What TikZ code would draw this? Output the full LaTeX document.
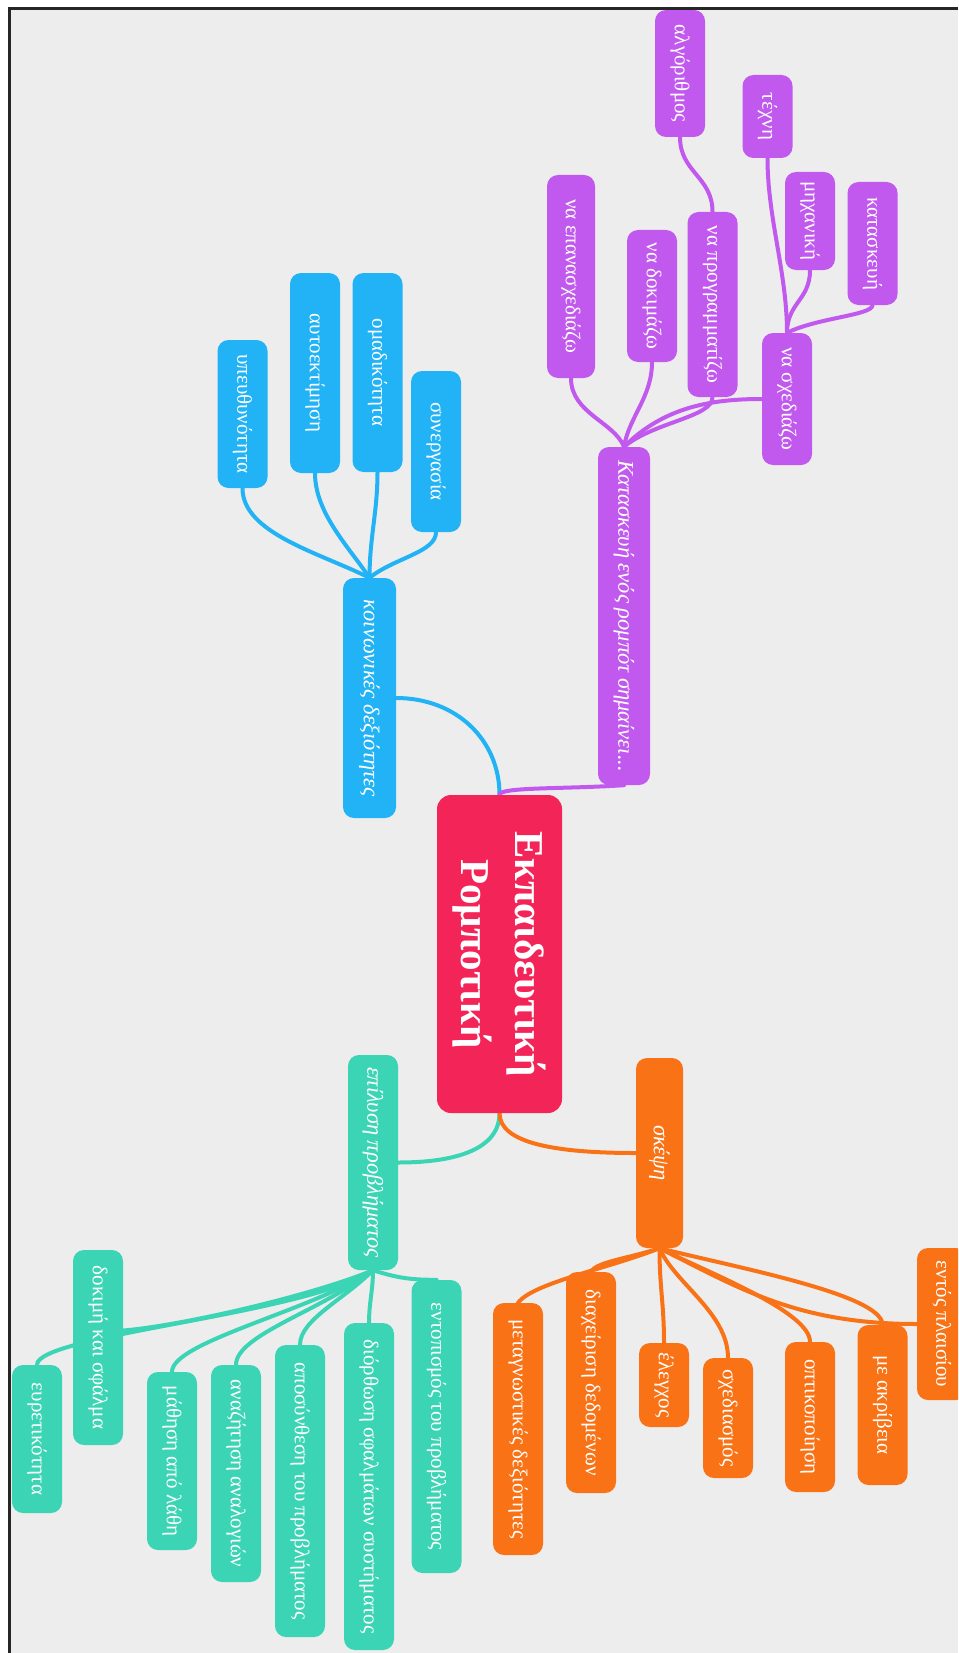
\documentclass[tikz,border=0pt]{standalone}
\usepackage{fontspec}
\setmainfont{Liberation Serif}

\pgfdeclarelayer{background}
\pgfsetlayers{background,main}

\definecolor{rootred}{RGB}{243,37,88}
\definecolor{skyblue}{RGB}{33,179,245}
\definecolor{lilac}{RGB}{193,89,239}
\definecolor{mint}{RGB}{59,213,181}
\definecolor{tangerine}{RGB}{249,115,22}
\definecolor{paper}{RGB}{237,237,237}

\tikzset{
    leaf/.style = {rotate = -90, rounded corners = 11pt, text = white, inner sep = 0pt,
                   minimum height = 50pt, font = \fontsize{21}{24}\selectfont},
    branch/.style = {leaf, font = \fontsize{22.5}{26}\selectfont\itshape},
    link/.style = {line width = 4pt, line cap = round},
}

\begin{document}
\begin{tikzpicture}[x = 1pt, y = -1pt]
        \useasboundingbox (0,0) rectangle (958,1653);

        % centre
        \node[leaf, fill = rootred, minimum width = 318pt, minimum height = 125pt, rounded corners = 14pt,
              align = center, font = \fontsize{41}{54}\selectfont\bfseries] (root) at (499.5,954) {Εκπαιδευτική\\Ρομποτική};

        % social skills
        \node[branch, fill = skyblue, minimum width = 240pt, minimum height = 53pt] (soc) at (369.5,698) {κοινωνικές δεξιότητες};
        \node[leaf, fill = skyblue, minimum width = 148pt] (b1) at (242.5,414) {υπευθυνότητα};
        \node[leaf, fill = skyblue, minimum width = 200pt] (b2) at (315,373) {αυτοεκτίμηση};
        \node[leaf, fill = skyblue, minimum width = 199pt] (b3) at (377.5,372.5) {ομαδικότητα};
        \node[leaf, fill = skyblue, minimum width = 161pt] (b4) at (436,451.5) {συνεργασία};

        % building a robot
        \node[branch, fill = lilac, minimum width = 338pt, minimum height = 52pt] (bot) at (624,616) {Κατασκευή ενός ρομπότ σημαίνει...};
        \node[leaf, fill = lilac, minimum width = 203pt, minimum height = 48pt] (p1) at (571,276.5) {να επανασχεδιάζω};
        \node[leaf, fill = lilac, minimum width = 132pt] (p2) at (652,296) {να δοκιμάζω};
        \node[leaf, fill = lilac, minimum width = 185pt] (p3) at (712.5,304.5) {να προγραμματίζω};
        \node[leaf, fill = lilac, minimum width = 127pt] (p31) at (680,73.5) {αλγόριθμος};
        \node[leaf, fill = lilac, minimum width = 132pt] (p4) at (787,399) {να σχεδιάζω};
        \node[leaf, fill = lilac, minimum width = 83pt] (p41) at (767.5,116.5) {τέχνη};
        \node[leaf, fill = lilac, minimum width = 98pt] (p42) at (810,221) {μηχανική};
        \node[leaf, fill = lilac, minimum width = 123pt] (p43) at (872.5,243.5) {κατασκευή};

        % problem solving
        \node[branch, fill = mint, minimum width = 215pt] (prob) at (373,1162.5) {επίλυση προβλήματος};
        \node[leaf, fill = mint, minimum width = 148pt] (t1) at (37,1439) {ευρετικότητα};
        \node[leaf, fill = mint, minimum width = 195pt] (t2) at (98,1347.5) {δοκιμή και σφάλμα};
        \node[leaf, fill = mint, minimum width = 178pt] (t3) at (172,1461) {μάθηση από λάθη};
        \node[leaf, fill = mint, minimum width = 217pt] (t4) at (236,1473.5) {αναζήτηση αναλογιών};
        \node[leaf, fill = mint, minimum width = 292pt] (t5) at (300,1491) {αποσύνθεση του προβλήματος};
        \node[leaf, fill = mint, minimum width = 327pt] (t6) at (369,1486.5) {διόρθωση σφαλμάτων συστήματος};
        \node[leaf, fill = mint, minimum width = 293pt] (t7) at (436.5,1426.5) {εντοπισμός του προβλήματος};

        % thinking
        \node[branch, fill = tangerine, minimum width = 190pt, minimum height = 47pt] (think) at (659.5,1153) {σκέψη};
        \node[leaf, fill = tangerine, minimum width = 252pt] (o1) at (518,1429) {μεταγνωστικές δεξιότητες};
        \node[leaf, fill = tangerine, minimum width = 221pt] (o2) at (591,1382.5) {διαχείριση δεδομένων};
        \node[leaf, fill = tangerine, minimum width = 84pt] (o3) at (664,1385) {έλεγχος};
        \node[leaf, fill = tangerine, minimum width = 120pt] (o4) at (728,1418) {σχεδιασμός};
        \node[leaf, fill = tangerine, minimum width = 150pt] (o5) at (810,1417) {οπτικοποίηση};
        \node[leaf, fill = tangerine, minimum width = 160pt] (o6) at (882.5,1405) {με ακρίβεια};
        \begin{scope}
            \clip (0,0) rectangle (958,1653);
            \node[leaf, fill = tangerine, minimum width = 152pt] (o7) at (942,1324) {εντός πλαισίου};
        \end{scope}

        \draw[line width = 3pt, black!85] (9.5,1653) -- (9.5,8.5) -- (958,8.5);

        \begin{pgfonlayer}{background}
            \fill[white] (0,0) rectangle (958,1653);
            \fill[paper] (9,8) rectangle (958,1653);

            \draw[link, skyblue] (root.west) .. controls +(0,-55) and +(60,0) .. (soc.north);
            \draw[link, lilac] (root.west) .. controls +(0,-8) and +(-60,4) .. (bot.east);
            \draw[link, mint] (root.east) .. controls +(0,35) and +(60,0) .. (prob.north);
            \draw[link, tangerine] (root.east) .. controls +(0,30) and +(-80,0) .. (think.south);

            \draw[link, skyblue] (soc.west) .. controls +(-50,-25) and +(0,45) .. (b1.east);
            \draw[link, skyblue] (soc.west) .. controls +(-20,-30) and +(0,40) .. (b2.east);
            \draw[link, skyblue] (soc.west) .. controls +(0,-40) and +(0,40) .. (b3.east);
            \draw[link, skyblue] (soc.west) .. controls +(25,-20) and +(0,20) .. (b4.east);

            \draw[link, lilac] (bot.west) .. controls +(-10,-25) and +(0,35) .. (p1.east);
            \draw[link, lilac] (bot.west) .. controls +(5,-30) and +(0,35) .. (p2.east);
            \draw[link, lilac] (bot.west) .. controls +(30,-25) and +(0,20) .. (p3.east);
            \draw[link, lilac] (bot.west) .. controls +(40,-40) and +(-50,0) .. (p4.south);
            \draw[link, lilac] (p3.west) .. controls +(0,-35) and +(0,35) .. (p31.east);
            \draw[link, lilac] (p4.west) .. controls +(0,-60) and +(0,60) .. (p41.east);
            \draw[link, lilac] (p4.west) .. controls +(0,-30) and +(0,30) .. (p42.east);
            \draw[link, lilac] (p4.west) .. controls +(30,-15) and +(0,10) .. (p43.east);

            \draw[link, mint] (prob.east) .. controls +(-70,45) and +(0,-30) .. (t1.west);
            \draw[link, mint] (prob.east) .. controls +(-60,25) and +(60,-5) .. ([yshift = 17pt]t2.north);
            \draw[link, mint] (prob.east) .. controls +(-60,40) and +(0,-30) .. (t3.west);
            \draw[link, mint] (prob.east) .. controls +(-50,40) and +(0,-30) .. (t4.west);
            \draw[link, mint] (prob.east) .. controls +(-30,30) and +(0,-25) .. (t5.west);
            \draw[link, mint] (prob.east) .. controls +(0,20) and +(0,-20) .. (t6.west);
            \draw[link, mint] (prob.east) .. controls +(25,8) and +(-25,0) .. (t7.west);

            \draw[link, tangerine] (think.east) .. controls +(-50,20) and +(15,-20) .. (o1.west);
            \draw[link, tangerine] (think.east) .. controls +(-30,10) and +(5,-10) .. (o2.west);
            \draw[link, tangerine] (think.east) .. controls +(0,40) and +(0,-40) .. (o3.west);
            \draw[link, tangerine] (think.east) .. controls +(15,35) and +(0,-45) .. (o4.west);
            \draw[link, tangerine] (think.east) .. controls +(50,25) and +(0,-30) .. (o5.west);
            \draw[link, tangerine] (think.east) .. controls +(80,20) and +(0,-30) .. (o6.west);
            \draw[link, tangerine] (think.east) .. controls +(80,40) and +(-120,0) .. (o7.south);
        \end{pgfonlayer}
    \end{tikzpicture}
\end{document}
